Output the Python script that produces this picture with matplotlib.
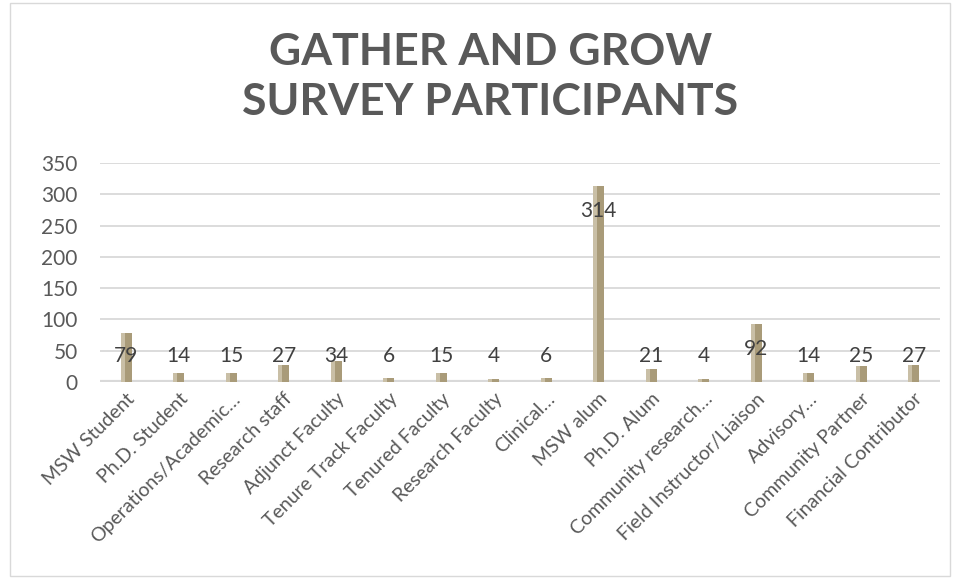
import matplotlib.pyplot as plt
from matplotlib.patches import Rectangle

categories = ["MSW Student", "Ph.D. Student", "Operations/Academic…", "Research staff",
              "Adjunct Faculty", "Tenure Track Faculty", "Tenured Faculty", "Research Faculty",
              "Clinical…", "MSW alum", "Ph.D. Alum", "Community research…",
              "Field Instructor/Liaison", "Advisory…", "Community Partner", "Financial Contributor"]
counts = [79, 14, 15, 27, 34, 6, 15, 4, 6, 314, 21, 4, 92, 14, 25, 27]

plt.rcParams["font.family"] = ["Lato", "DejaVu Sans"]
grey = "#595959"

fig = plt.figure(figsize=(9.58, 5.79), dpi=100)
ax = fig.add_axes([100 / 958, 1 - 382 / 579, 840 / 958, 219 / 579])

x = range(len(categories))
ax.bar(x, counts, width=0.21, color="#a99b79", edgecolor="none", zorder=3)
ax.bar([i - 0.065 for i in x], counts, width=0.08, color="#c9bfa6", edgecolor="none", zorder=3)

for i, v in enumerate(counts):
    ax.text(i, max(v - 40, 41), str(v), ha="center", va="center", fontsize=15,
            color="#404040", zorder=4)

ax.set_xlim(-0.5, len(categories) - 0.5)
ax.set_ylim(0, 350)
ax.set_yticks(range(0, 351, 50))
ax.yaxis.grid(True, color="#d9d9d9", linewidth=1.3, zorder=0)
ax.axhline(0, color="#d9d9d9", linewidth=3, zorder=2)
for s in ax.spines.values():
    s.set_visible(False)
ax.tick_params(length=0, labelsize=15, labelcolor=grey)
ax.tick_params(axis="y", pad=16)
ax.tick_params(axis="x", pad=6)
ax.set_xticks(list(x))
ax.set_xticklabels(categories, rotation=45, ha="right", rotation_mode="anchor", fontsize=14)

fig.text(0.512, 1 - 77 / 579, "GATHER AND GROW\nSURVEY PARTICIPANTS", ha="center", va="center",
         fontsize=32, fontweight="bold", color=grey, linespacing=1.3)

fig.patches.append(Rectangle((10 / 958, 3 / 579), 940 / 958, 573 / 579, transform=fig.transFigure,
                             fill=False, edgecolor="#d9d9d9", linewidth=1))

fig.savefig("out.png", dpi=100)
